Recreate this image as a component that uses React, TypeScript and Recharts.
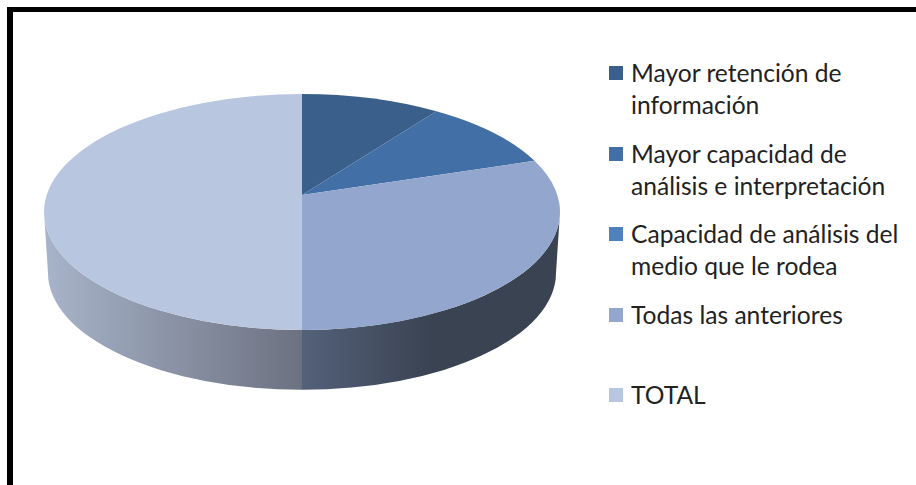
import { PieChart, Pie, Legend } from "recharts";

const labels = [
  "Mayor retención de información",
  "Mayor capacidad de análisis e interpretación",
  "Capacidad de análisis del medio que le rodea",
  "Todas las anteriores",
  "TOTAL",
];
const values = [10, 10, 0, 30, 50];
const topColors = ["#3A5F8B", "#4270A6", "#4F81BD", "#92A6CE", "#B9C6DF"];
const wallColors = ["none", "none", "none", "url(#wallRight)", "url(#wallLeft)"];

const topData = labels.map((name, i) => ({ name, value: values[i], fill: topColors[i] }));
const wallData = labels.map((name, i) => ({ name, value: values[i], fill: wallColors[i] }));

// the pie is tilted, so the centre sits above the middle of the ellipse
const TILT = 0.144;
const TOP = { rx: 258, ry: 118 };
const BOTTOM = { rx: 254, ry: 117, drop: 61 };
const FRONT_FROM = 98.3;
const FRONT_TO = 261.7;

const project = (cx: number, cy: number, deg: number, rx: number, ry: number) => {
  const rad = (deg * Math.PI) / 180;
  const u = Math.sin(rad);
  const v = Math.cos(rad);
  const d = 1 + TILT * v;
  const s2 = 1 - TILT * TILT;
  return {
    x: cx + (rx * Math.sqrt(s2) * u) / d,
    y: cy - (ry * s2 * v) / d,
  };
};

const TopSlice = (props: any) => {
  const { cx, cy, startAngle, endAngle, fill } = props;
  const a = 90 - startAngle;
  const b = 90 - endAngle;
  if (b - a <= 0) return null;
  const p1 = project(cx, cy, a, TOP.rx, TOP.ry);
  const p2 = project(cx, cy, b, TOP.rx, TOP.ry);
  const large = b - a > 180 ? 1 : 0;
  return (
    <path
      d={`M${cx},${cy} L${p1.x},${p1.y} A${TOP.rx},${TOP.ry} 0 ${large} 1 ${p2.x},${p2.y} Z`}
      fill={fill}
    />
  );
};

const WallSlice = (props: any) => {
  const { cx, cy, startAngle, endAngle, fill } = props;
  const a = Math.max(90 - startAngle, FRONT_FROM);
  const b = Math.min(90 - endAngle, FRONT_TO);
  if (b - a <= 0) return null;
  const lowY = cy + BOTTOM.drop;
  const p1 = project(cx, cy, a, TOP.rx, TOP.ry);
  const p2 = project(cx, cy, b, TOP.rx, TOP.ry);
  const q1 = project(cx, lowY, a, BOTTOM.rx, BOTTOM.ry);
  const q2 = project(cx, lowY, b, BOTTOM.rx, BOTTOM.ry);
  return (
    <path
      d={`M${p1.x},${p1.y} A${TOP.rx},${TOP.ry} 0 0 1 ${p2.x},${p2.y} L${q2.x},${q2.y} A${BOTTOM.rx},${BOTTOM.ry} 0 0 0 ${q1.x},${q1.y} Z`}
      fill={fill}
    />
  );
};

const LegendList = ({ payload }: any) => {
  // the wall pie is left out, and the order is kept as in the data
  const items = (payload || [])
    .filter((entry: any) => entry.type !== "none")
    .sort((a: any, b: any) => labels.indexOf(a.value) - labels.indexOf(b.value));
  return (
    <div style={{ fontFamily: "Lato, sans-serif", fontSize: 24.6, lineHeight: "32px", color: "#222" }}>
      {items.map((entry: any) => (
        <div key={entry.value} style={{ display: "flex", height: 80.5 }}>
          <span
            style={{
              flex: "none",
              width: 14,
              height: 14,
              marginTop: 9,
              marginRight: 8,
              background: topColors[labels.indexOf(entry.value)],
            }}
          />
          <span style={{ width: 285 }}>{entry.value}</span>
        </div>
      ))}
    </div>
  );
};

export default function App() {
  return (
    <div
      style={{
        position: "absolute",
        left: 0,
        top: 0,
        width: 916,
        height: 485,
        background: "#fff",
        overflow: "hidden",
      }}
    >
      <div
        style={{
          position: "absolute",
          left: 7,
          top: 7,
          width: 909,
          height: 478,
          boxSizing: "border-box",
          borderLeft: "6px solid #000",
          borderTop: "5px solid #000",
        }}
      />
      <PieChart width={916} height={485} margin={{ top: 0, right: 0, bottom: 0, left: 0 }}>
        <defs>
          <linearGradient id="wallLeft" gradientUnits="userSpaceOnUse" x1={44} y1={0} x2={302} y2={0}>
            <stop offset="0%" stopColor="#A8B4CA" />
            <stop offset="100%" stopColor="#6C7180" />
          </linearGradient>
          <linearGradient id="wallRight" gradientUnits="userSpaceOnUse" x1={302} y1={0} x2={430} y2={0}>
            <stop offset="0%" stopColor="#54617A" />
            <stop offset="100%" stopColor="#3A4352" />
          </linearGradient>
        </defs>
        <Pie
          data={wallData}
          dataKey="value"
          nameKey="name"
          cx={302}
          cy={195}
          outerRadius={258}
          startAngle={90}
          endAngle={-270}
          stroke="none"
          legendType="none"
          shape={WallSlice}
          isAnimationActive={false}
        />
        <Pie
          data={topData}
          dataKey="value"
          nameKey="name"
          cx={302}
          cy={195}
          outerRadius={258}
          startAngle={90}
          endAngle={-270}
          stroke="none"
          shape={TopSlice}
          isAnimationActive={false}
        />
        <Legend
          layout="vertical"
          align="right"
          verticalAlign="top"
          content={LegendList}
          wrapperStyle={{ left: 609, top: 57, width: 307, right: "auto" }}
        />
      </PieChart>
    </div>
  );
}
